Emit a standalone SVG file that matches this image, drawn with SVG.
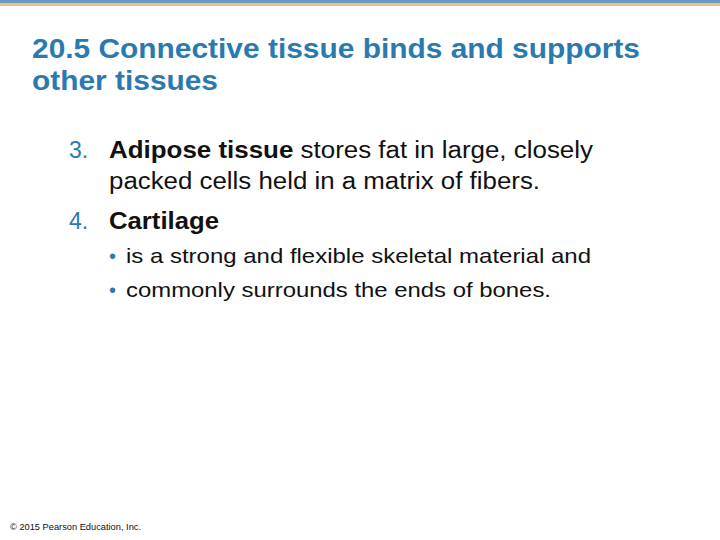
<svg xmlns="http://www.w3.org/2000/svg" width="720" height="540" viewBox="0 0 720 540">
<style>
.t{font-family:"Liberation Sans",Arial,sans-serif;}
.ti{font-size:27px;font-weight:bold;fill:#2a7ab0;}
.b{font-size:23px;fill:#111;}
.n{font-size:23px;fill:#2a7ab0;}
.bl{font-size:20px;fill:#2a7ab0;}
.s{font-size:21px;fill:#111;}
</style>
<rect width="720" height="540" fill="#fff"/>
<rect width="720" height="3" fill="#6a9ac4"/>
<rect y="3" width="720" height="3" fill="#e2c67f"/>
<g class="t">
<text class="ti" x="32" y="58" textLength="608" lengthAdjust="spacingAndGlyphs">20.5 Connective tissue binds and supports</text>
<text class="ti" x="32" y="90" textLength="186" lengthAdjust="spacingAndGlyphs">other tissues</text>
<text class="n" x="69" y="158">3.</text>
<text class="b" x="109" y="158" textLength="484" lengthAdjust="spacingAndGlyphs"><tspan font-weight="bold">Adipose tissue</tspan> stores fat in large, closely</text>
<text class="b" x="109" y="189" textLength="431" lengthAdjust="spacingAndGlyphs">packed cells held in a matrix of fibers.</text>
<text class="n" x="69" y="229">4.</text>
<text class="b" x="109" y="229" font-weight="bold" textLength="110" lengthAdjust="spacingAndGlyphs">Cartilage</text>
<text class="bl" x="109" y="263">•</text>
<text class="s" x="126" y="263" textLength="465" lengthAdjust="spacingAndGlyphs">is a strong and flexible skeletal material and</text>
<text class="bl" x="109" y="297">•</text>
<text class="s" x="126" y="297" textLength="425" lengthAdjust="spacingAndGlyphs">commonly surrounds the ends of bones.</text>
<text x="10" y="530" font-size="9" fill="#111" textLength="131" lengthAdjust="spacingAndGlyphs">© 2015 Pearson Education, Inc.</text>
</g>
</svg>
